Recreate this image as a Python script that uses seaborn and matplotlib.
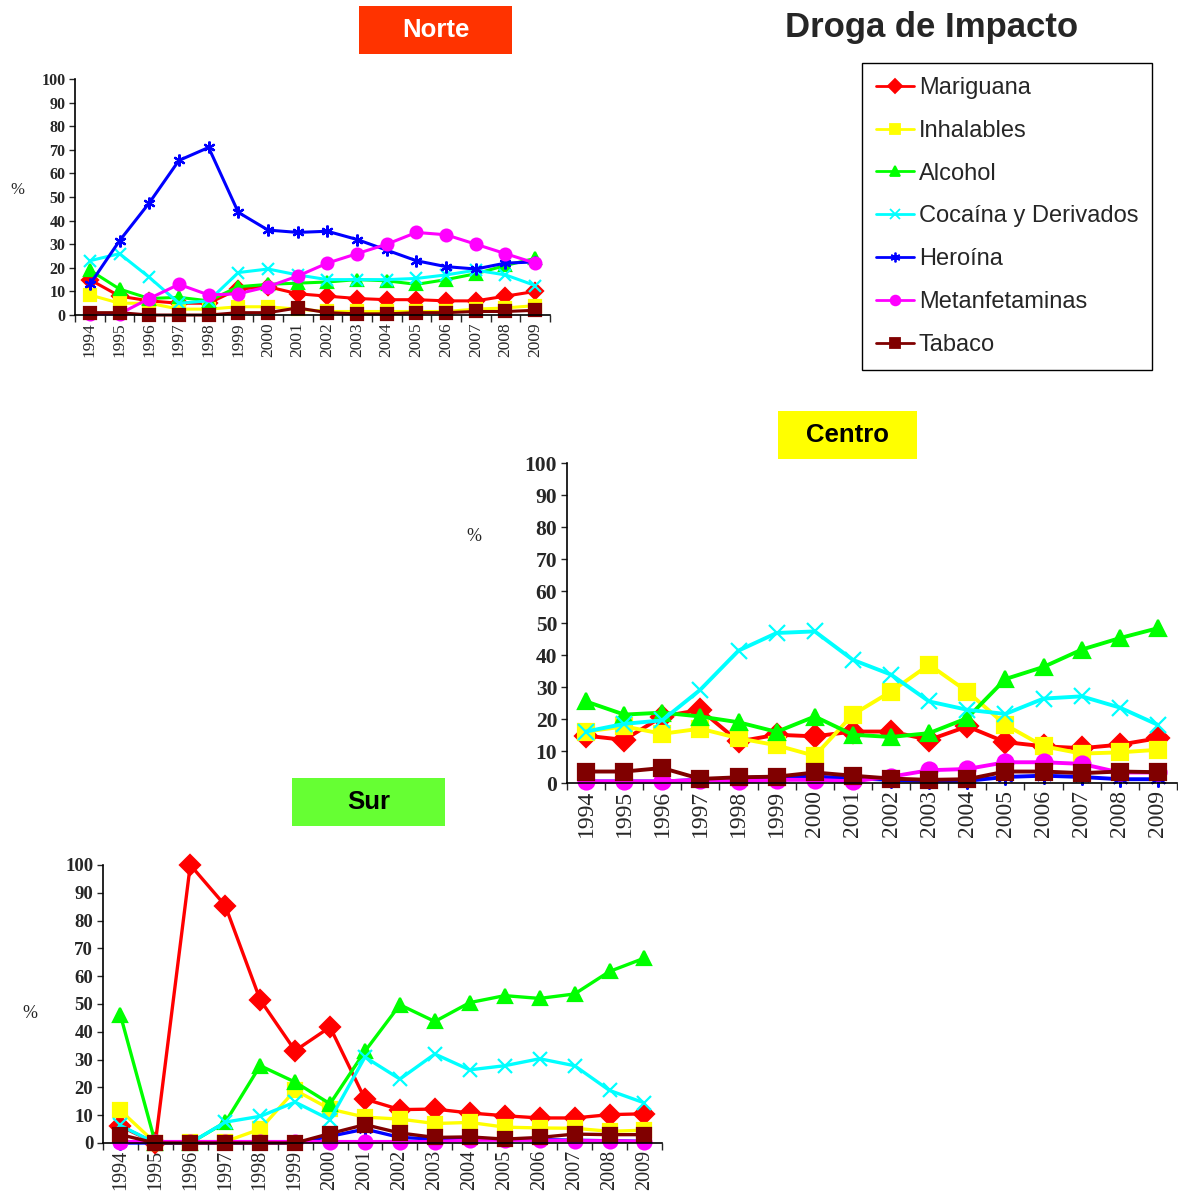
import matplotlib
matplotlib.use("Agg")
import matplotlib.pyplot as plt
from matplotlib.lines import Line2D
from matplotlib.patches import Rectangle
import pandas as pd
import seaborn as sns

years = list(range(1994, 2010))
drugs = ["Mariguana", "Inhalables", "Alcohol", "Cocaína y Derivados",
         "Heroína", "Metanfetaminas", "Tabaco"]
colors = ["#FF0000", "#FFFF00", "#00FF00", "#00FFFF", "#0000FF", "#FF00FF", "#800000"]
markers = ["D", "s", "^", "x", (6, 2, 0), "o", "s"]

# Norte
norte_mariguana = [15, 8, 6, 5, 5, 11, 12, 9, 8, 7, 6.5, 6.5, 6, 6, 8, 10]
norte_inhalables = [8.5, 5, 5, 2.5, 2.5, 3.5, 3.5, 2.5, 1.5, 1.5, 1.5, 1.5, 1.5, 2.5, 3, 4]
norte_alcohol = [19, 11, 7, 7.5, 6, 12, 13, 13.5, 14, 15, 14.5, 13, 15, 17.5, 21, 24]
norte_cocaina = [23, 26, 16, 5, 6, 18, 19.5, 17, 15, 15, 15, 15.5, 17, 19, 17, 12.5]
norte_heroina = [13, 31.5, 47.5, 65.5, 71, 43.5, 36, 35, 35.5, 32, 27.5, 23, 20.5, 19.5, 22, 22.5]
norte_metanfet = [0.5, 0.5, 7, 13, 8.5, 9, 12, 16.5, 22, 26, 30, 35, 34, 30, 26, 22]
norte_tabaco = [1, 1, 0, 0, 0, 1, 1, 3, 1, 0.5, 0.5, 1, 1, 1.5, 1.5, 2]

# Centro
centro_mariguana = [14.8, 13.5, 20.8, 22.9, 13, 15.1, 14.6, 16.1, 16.1, 13.5, 17.7, 12.8, 11.5, 10.9, 12, 14]
centro_inhalables = [16.1, 17.7, 15.4, 17, 14, 11.8, 8.5, 21.4, 28.6, 37, 28.6, 18.2, 11.5, 9.2, 9.6, 10.4]
centro_alcohol = [25.5, 21.4, 22, 20.8, 19, 16, 20.8, 15.1, 14.4, 15.6, 20.3, 32.5, 36.3, 41.7, 45.3, 48.4]
centro_cocaina = [16.1, 18.5, 19.6, 29.2, 41.4, 46.9, 47.4, 38.5, 33.9, 25.5, 22.9, 21.6, 26.4, 27.1, 23.6, 18.2]
centro_heroina = [0.5, 0.5, 0.5, 1, 1.5, 2, 2, 1.5, 1, 0.7, 0.7, 1.9, 2.3, 1.9, 1.2, 1.2]
centro_metanfet = [0.5, 0.5, 0.5, 1, 0.5, 1, 1, 0.5, 2, 4, 4.4, 6.5, 6.5, 6, 3.3, 3.3]
centro_tabaco = [3.6, 3.6, 4.7, 1.3, 1.8, 2, 3.3, 2.3, 1.4, 1, 1.2, 3.6, 3.6, 3.1, 3.6, 3.4]

# Sur
sur_mariguana = [6, 0, 100, 85.4, 51.5, 33.2, 41.7, 15.8, 12, 12.2, 10.8, 9.8, 9, 9, 10.2, 10.5]
sur_inhalables = [11.7, 0, 0.5, 0.5, 5, 19, 12.2, 9.3, 8.6, 7, 7.4, 5.7, 5.4, 5.3, 4.2, 4.6]
sur_alcohol = [46, 0, 0, 7.4, 27.8, 21.9, 14.1, 33, 49.7, 43.7, 50.5, 53, 52, 53.6, 61.7, 66.5]
sur_cocaina = [6.3, 0, 0, 7.5, 9.6, 14.7, 8.4, 30.9, 23, 32, 26.3, 27.8, 30.3, 27.8, 18.9, 14.4]
sur_heroina = [0, 0, 0, 0, 0, 0, 2.4, 5, 2, 1.4, 1.8, 1.2, 1.2, 1, 0.8, 0.6]
sur_metanfet = [0.5, 0.5, 0.5, 0.5, 0.5, 0.5, 0.5, 0.5, 0.5, 0.5, 1, 1, 1, 0.8, 0.8, 0.5]
sur_tabaco = [3, 0, 0, 0, 0, 0, 3.4, 6.6, 3.6, 2, 2.2, 1.4, 2, 3.2, 3, 3]


def make_df(series):
    rows = []
    for drug, vals in zip(drugs, series):
        for yr, v in zip(years, vals):
            rows.append((drug, yr, v))
    return pd.DataFrame(rows, columns=["droga", "anio", "pct"])


def draw_panel(ax, df, lw, ms, ytick_size, xtick_size):
    for drug, c, m in zip(drugs, colors, markers):
        sub = df[df["droga"] == drug]
        sns.lineplot(data=sub, x="anio", y="pct", color=c, marker=m, markersize=ms,
                     markeredgecolor=c, markeredgewidth=1.6, linewidth=lw,
                     errorbar=None, clip_on=False, ax=ax)
    ax.set_xlim(1993.5, 2009.5)
    ax.set_ylim(0, 100)
    ax.set_yticks(range(0, 101, 10))
    ax.set_xticks(years)
    ax.set_xticklabels([str(y) for y in years], rotation=90, fontsize=xtick_size)
    ax.set_xticks([y - 0.5 for y in years] + [2009.5], minor=True)
    ax.tick_params(axis="x", which="major", length=0, pad=5)
    ax.tick_params(axis="x", which="minor", length=5, width=1, direction="out")
    ax.tick_params(axis="y", length=4, width=1, direction="out", labelsize=ytick_size, pad=3)
    for lbl in ax.get_yticklabels():
        lbl.set_fontweight("bold")
    ax.set_xlabel("")
    ax.set_ylabel("")
    sns.despine(ax=ax)
    for s in ["left", "bottom"]:
        ax.spines[s].set_color("black")
        ax.spines[s].set_linewidth(1.2)


def title_box(fig, x, y, w, h, color, text, tcolor):
    fig.patches.append(Rectangle((x, y), w, h, transform=fig.transFigure,
                                 facecolor=color, edgecolor="none"))
    fig.text(x + w / 2, y + h / 2, text, ha="center", va="center", fontsize=18.5,
             fontweight="bold", color=tcolor, family=["Liberation Sans", "DejaVu Sans"])


sns.set_style("ticks")
plt.rcParams["font.family"] = ["Liberation Serif", "DejaVu Serif"]

fig = plt.figure(figsize=(11.78, 12.01), dpi=100)

ax_n = fig.add_axes([0.0637, 0.7377, 0.4032, 0.1965])
draw_panel(ax_n, make_df([norte_mariguana, norte_inhalables, norte_alcohol, norte_cocaina,
                          norte_heroina, norte_metanfet, norte_tabaco]), 2.2, 8.5, 11.5, 12.5)

ax_c = fig.add_axes([0.4813, 0.3480, 0.5178, 0.2664])
draw_panel(ax_c, make_df([centro_mariguana, centro_inhalables, centro_alcohol, centro_cocaina,
                          centro_heroina, centro_metanfet, centro_tabaco]), 2.8, 11.5, 15.5, 17)

ax_s = fig.add_axes([0.0874, 0.0483, 0.4745, 0.2315])
draw_panel(ax_s, make_df([sur_mariguana, sur_inhalables, sur_alcohol, sur_cocaina,
                          sur_heroina, sur_metanfet, sur_tabaco]), 2.4, 10, 13.5, 14.5)

fig.text(17 / 1178, 1 - 190 / 1201, "%", ha="center", va="center", fontsize=12)
fig.text(474 / 1178, 1 - 537 / 1201, "%", ha="center", va="center", fontsize=13)
fig.text(30 / 1178, 1 - 1013 / 1201, "%", ha="center", va="center", fontsize=13)

title_box(fig, 0.3048, 0.9550, 0.1299, 0.040, "#FF3300", "Norte", "white")
title_box(fig, 0.6604, 0.6178, 0.1180, 0.040, "#FFFF00", "Centro", "black")
title_box(fig, 0.2479, 0.3122, 0.1299, 0.040, "#66FF33", "Sur", "black")

fig.text(932 / 1178, 1 - 27 / 1201, "Droga de Impacto", ha="center", va="center",
         fontsize=25, fontweight="bold", family=["Liberation Sans", "DejaVu Sans"])

handles = [Line2D([], [], color=c, marker=m, markersize=7, markeredgecolor=c,
                  markeredgewidth=1.3, linewidth=2) for c, m in zip(colors, markers)]
leg = fig.legend(handles, drugs, loc="upper left", bbox_to_anchor=(862 / 1178, 1 - 63 / 1201),
                 frameon=True, fancybox=False, edgecolor="black", framealpha=1,
                 prop={"family": ["Liberation Sans", "DejaVu Sans"], "size": 17},
                 labelspacing=0.88, handlelength=1.6, handletextpad=0.2,
                 borderpad=0.6, borderaxespad=0)
leg.get_frame().set_linewidth(1.0)

fig.savefig("out.png", dpi=100)
